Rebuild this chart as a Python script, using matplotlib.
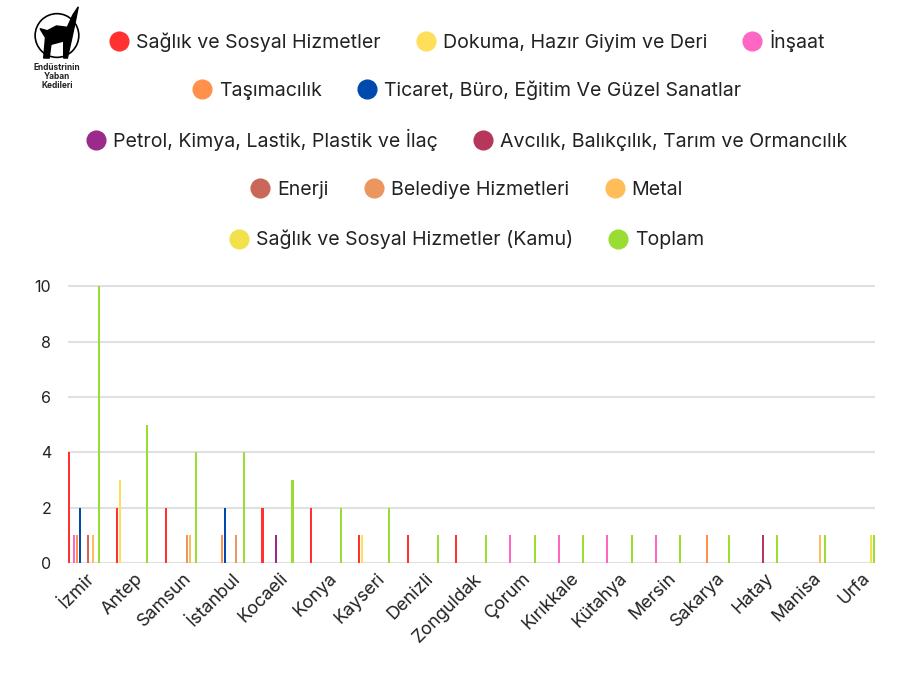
import numpy as np
import matplotlib.pyplot as plt
from matplotlib.lines import Line2D
from matplotlib.patches import Ellipse, Polygon

plt.rcParams['font.family'] = ['Inter', 'DejaVu Sans']

cities = ['İzmir', 'Antep', 'Samsun', 'İstanbul', 'Kocaeli', 'Konya', 'Kayseri',
          'Denizli', 'Zonguldak', 'Çorum', 'Kırıkkale', 'Kütahya', 'Mersin',
          'Sakarya', 'Hatay', 'Manisa', 'Urfa']

series = ['Sağlık ve Sosyal Hizmetler', 'Dokuma, Hazır Giyim ve Deri', 'İnşaat',
          'Taşımacılık', 'Ticaret, Büro, Eğitim Ve Güzel Sanatlar',
          'Petrol, Kimya, Lastik, Plastik ve İlaç',
          'Avcılık, Balıkçılık, Tarım ve Ormancılık', 'Enerji',
          'Belediye Hizmetleri', 'Metal', 'Sağlık ve Sosyal Hizmetler (Kamu)', 'Toplam']

colors = ['#ff3131', '#ffde59', '#ff66c4', '#ff914d', '#004aad', '#9b2a8a',
          '#b5375c', '#c9675a', '#eb955f', '#ffbd59', '#f3e14b', '#99dd33']

saglik = [4, 2, 2, 0, 2, 2, 1, 1, 1, 0, 0, 0, 0, 0, 0, 0, 0]
dokuma = [0, 3, 0, 0, 0, 0, 1, 0, 0, 0, 0, 0, 0, 0, 0, 0, 0]
insaat = [1, 0, 0, 0, 0, 0, 0, 0, 0, 1, 1, 1, 1, 0, 0, 0, 0]
tasimacilik = [1, 0, 0, 1, 0, 0, 0, 0, 0, 0, 0, 0, 0, 1, 0, 0, 0]
ticaret = [2, 0, 0, 2, 0, 0, 0, 0, 0, 0, 0, 0, 0, 0, 0, 0, 0]
petrol = [0, 0, 0, 0, 1, 0, 0, 0, 0, 0, 0, 0, 0, 0, 0, 0, 0]
avcilik = [0, 0, 0, 0, 0, 0, 0, 0, 0, 0, 0, 0, 0, 0, 1, 0, 0]
enerji = [1, 0, 0, 0, 0, 0, 0, 0, 0, 0, 0, 0, 0, 0, 0, 0, 0]
belediye = [0, 0, 1, 1, 0, 0, 0, 0, 0, 0, 0, 0, 0, 0, 0, 0, 0]
metal = [1, 0, 1, 0, 0, 0, 0, 0, 0, 0, 0, 0, 0, 0, 0, 1, 0]
kamu = [0, 0, 0, 0, 0, 0, 0, 0, 0, 0, 0, 0, 0, 0, 0, 0, 1]
toplam = [10, 5, 4, 4, 3, 2, 2, 1, 1, 1, 1, 1, 1, 1, 1, 1, 1]

values = [saglik, dokuma, insaat, tasimacilik, ticaret, petrol, avcilik,
          enerji, belediye, metal, kamu, toplam]

legend_rows = [[0, 1, 2], [3, 4], [5, 6], [7, 8, 9], [10, 11]]
legend_y = [0.940, 0.868, 0.795, 0.722, 0.649]

fig = plt.figure(figsize=(9.1, 6.83), dpi=100)
ax = fig.add_axes([0.0744, 0.1757, 0.887, 0.407])

x = np.arange(len(cities))
step = 0.0563
bw = 0.042
for k, (vals, c) in enumerate(zip(values, colors)):
    ax.bar(x + k * step, vals, width=bw, color=c, zorder=3)

ax.set_xlim(-bw / 2, x[-1] + 11 * step + bw / 2)
ax.set_ylim(0, 10.05)
ax.set_yticks([0, 2, 4, 6, 8, 10])
ax.grid(axis='y', color='#e0e0e0', linewidth=1.5, zorder=0)
for s in ax.spines.values():
    s.set_visible(False)
ax.tick_params(axis='both', length=0, colors='#222222')
ax.tick_params(axis='y', pad=12, labelsize=11.5)
ax.tick_params(axis='x', pad=5)
ax.set_xticks(x + 0.36)
ax.set_xticklabels(cities, rotation=45, ha='right', va='top',
                   rotation_mode='anchor', fontsize=13)

for row, y in zip(legend_rows, legend_y):
    handles = [Line2D([], [], marker='o', linestyle='', markersize=13.5,
                      markerfacecolor=colors[i], markeredgecolor=colors[i])
               for i in row]
    fig.legend(handles, [series[i] for i in row], loc='center',
               bbox_to_anchor=(0.512, y), ncol=len(row), frameon=False,
               fontsize=14.1, handletextpad=0.28, columnspacing=1.7,
               handlelength=1.2, labelcolor='#222222')

# logo (rough stand-in)
fig.patches.append(Ellipse((0.0626, 0.948), 0.048, 0.064, transform=fig.transFigure,
                           fill=False, edgecolor='black', linewidth=1.2))
cat = [(0.048, 0.915), (0.050, 0.945), (0.044, 0.958), (0.052, 0.955),
       (0.062, 0.962), (0.074, 0.960), (0.080, 0.978), (0.086, 0.990),
       (0.083, 0.970), (0.079, 0.945), (0.074, 0.915), (0.070, 0.915),
       (0.070, 0.940), (0.056, 0.935), (0.054, 0.915)]
fig.patches.append(Polygon(cat, closed=True, transform=fig.transFigure,
                           facecolor='black', edgecolor='black'))
fig.text(0.0626, 0.908, 'Endüstrinin\nYaban\nKedileri', ha='center', va='top',
         fontsize=6, fontweight='bold', linespacing=1.0, color='#222222')

fig.savefig('out.png', dpi=100)
